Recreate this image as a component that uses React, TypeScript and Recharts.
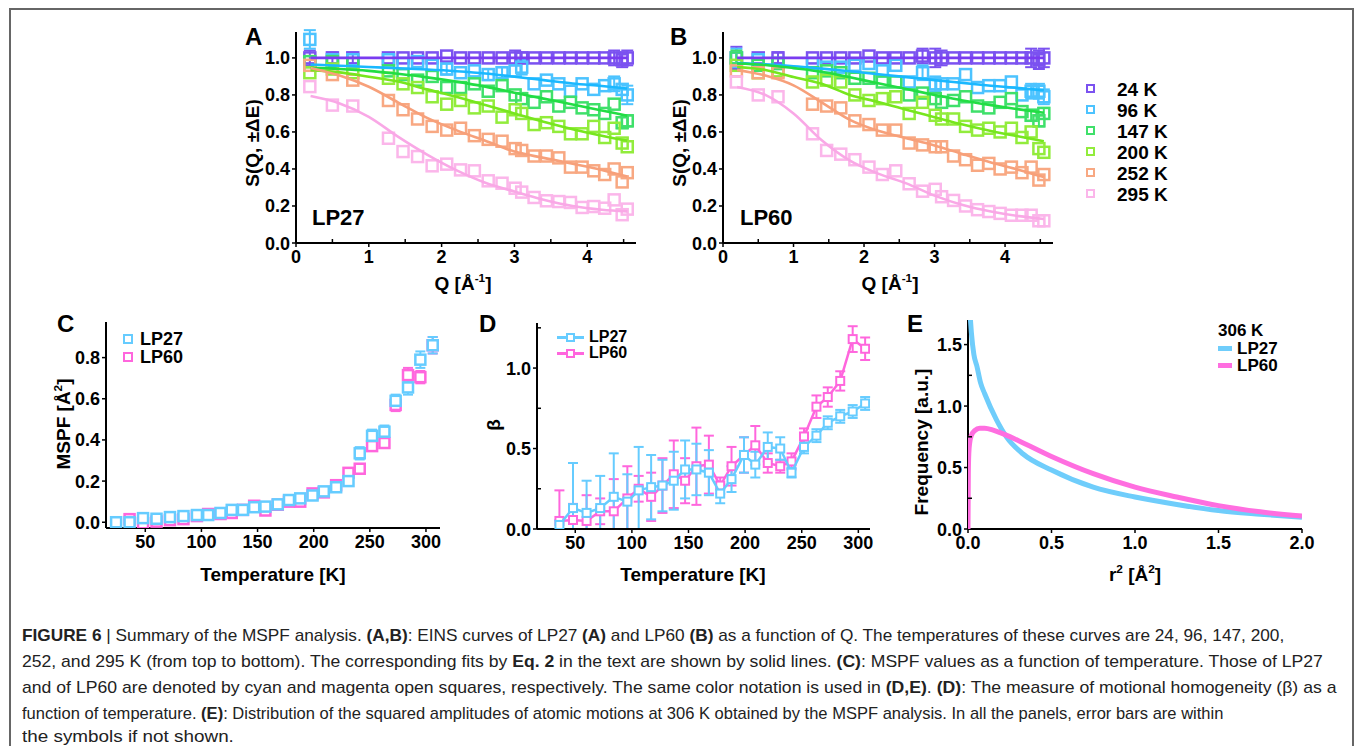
import React from "react";
import { ComposedChart, Scatter, XAxis, YAxis, ErrorBar } from "recharts";

// ---- Panel A/B: EINS curves ----
const qA = [0.19, 0.5, 0.78, 1.27, 1.47, 1.67, 1.87, 2.07, 2.26, 2.45, 2.64, 2.83, 3.01, 3.1, 3.27, 3.44, 3.61, 3.77, 3.93, 4.09, 4.24, 4.37, 4.48, 4.55];

const s27_24 = [1.0, 1.0, 1.0, 1.0, 1.0, 1.0, 1.0, 1.01, 1.0, 1.0, 1.0, 1.0, 1.0, 1.0, 1.0, 1.0, 1.0, 1.0, 1.0, 1.0, 1.0, 1.0, 0.99, 1.0];
const s27_96 = [1.1, 0.99, 0.99, 0.99, 0.97, 0.98, 0.96, 0.94, 0.92, 0.93, 0.91, 0.92, 0.93, 0.95, 0.86, 0.88, 0.86, 0.82, 0.86, 0.83, 0.85, 0.86, 0.83, 0.8];
const s27_147 = [0.98, 0.98, 0.97, 0.93, 0.91, 0.88, 0.9, 0.84, 0.84, 0.86, 0.82, 0.85, 0.8, 0.78, 0.76, 0.79, 0.74, 0.76, 0.73, 0.72, 0.7, 0.75, 0.65, 0.66];
const s27_200 = [0.92, 0.94, 0.92, 0.89, 0.86, 0.84, 0.79, 0.75, 0.77, 0.73, 0.74, 0.68, 0.72, 0.7, 0.64, 0.65, 0.63, 0.59, 0.59, 0.63, 0.57, 0.62, 0.54, 0.52];
const s27_252 = [0.96, 0.91, 0.88, 0.77, 0.72, 0.67, 0.63, 0.61, 0.62, 0.58, 0.56, 0.55, 0.51, 0.5, 0.47, 0.47, 0.46, 0.41, 0.41, 0.39, 0.37, 0.4, 0.33, 0.38];
const s27_295 = [0.845, 0.745, 0.74, 0.566, 0.494, 0.467, 0.417, 0.426, 0.395, 0.39, 0.336, 0.323, 0.296, 0.275, 0.246, 0.228, 0.224, 0.219, 0.192, 0.197, 0.188, 0.233, 0.153, 0.183];
const e27_24 = [0.04, 0.03, 0.03, 0, 0, 0, 0, 0, 0, 0, 0, 0, 0.04, 0.03, 0, 0, 0, 0, 0, 0, 0, 0.04, 0.04, 0.04];
const e27_96 = [0.05, 0, 0, 0, 0, 0, 0, 0.03, 0, 0, 0.03, 0.03, 0, 0.04, 0, 0, 0, 0, 0, 0, 0, 0.04, 0, 0.05];
const e27_147 = [0, 0, 0, 0, 0, 0, 0, 0, 0, 0, 0, 0, 0, 0, 0, 0, 0, 0, 0, 0, 0, 0, 0.03, 0.03];

const s60_24 = [1.0, 1.0, 1.0, 1.0, 1.0, 1.0, 1.0, 1.01, 1.0, 1.0, 1.0, 1.01, 1.0, 1.0, 1.0, 1.0, 1.0, 1.0, 1.0, 1.0, 1.0, 1.0, 0.99, 1.0];
const s60_96 = [1.0, 0.99, 0.97, 0.97, 0.95, 0.95, 0.96, 0.97, 0.93, 0.96, 0.87, 0.92, 0.86, 0.86, 0.86, 0.91, 0.84, 0.85, 0.85, 0.87, 0.8, 0.82, 0.82, 0.79];
const s60_147 = [1.0, 0.96, 0.97, 0.92, 0.93, 0.92, 0.89, 0.89, 0.87, 0.87, 0.8, 0.81, 0.78, 0.76, 0.77, 0.79, 0.74, 0.73, 0.76, 0.78, 0.71, 0.69, 0.66, 0.7];
const s60_200 = [0.96, 0.92, 0.93, 0.87, 0.88, 0.87, 0.8, 0.77, 0.78, 0.79, 0.7, 0.76, 0.69, 0.67, 0.67, 0.63, 0.61, 0.62, 0.6, 0.62, 0.57, 0.6, 0.51, 0.49];
const s60_252 = [0.93, 0.92, 0.92, 0.75, 0.74, 0.73, 0.66, 0.64, 0.61, 0.61, 0.54, 0.53, 0.52, 0.52, 0.47, 0.45, 0.42, 0.43, 0.4, 0.41, 0.38, 0.41, 0.34, 0.37];
const s60_295 = [0.87, 0.8, 0.79, 0.59, 0.5, 0.48, 0.45, 0.41, 0.37, 0.39, 0.32, 0.28, 0.29, 0.25, 0.23, 0.2, 0.18, 0.17, 0.16, 0.15, 0.15, 0.15, 0.12, 0.12];
const e60_24 = [0.06, 0, 0.03, 0, 0, 0, 0, 0, 0, 0, 0, 0.04, 0.05, 0.04, 0, 0, 0, 0, 0, 0, 0, 0.05, 0.05, 0.05];
const e60_96 = [0.05, 0, 0, 0, 0, 0, 0, 0, 0, 0, 0, 0.04, 0.04, 0, 0, 0, 0, 0, 0, 0, 0, 0.04, 0.04, 0.04];
const e60_147 = [0.04, 0, 0, 0, 0, 0, 0, 0, 0, 0, 0, 0, 0, 0, 0, 0, 0, 0, 0, 0, 0, 0.03, 0.03, 0.03];

const qFit = [0.2, 0.6, 1.0, 1.4, 1.8, 2.2, 2.6, 3.0, 3.4, 3.8, 4.2, 4.55];
const fit27_24 = [1.0, 1.0, 1.0, 1.0, 1.0, 1.0, 1.0, 1.0, 1.0, 1.0, 1.0, 1.0];
const fit27_96 = [0.964, 0.958, 0.951, 0.944, 0.937, 0.928, 0.916, 0.898, 0.88, 0.862, 0.848, 0.835];
const fit27_147 = [0.946, 0.94, 0.93, 0.914, 0.895, 0.872, 0.845, 0.812, 0.78, 0.748, 0.716, 0.688];
const fit27_200 = [0.934, 0.922, 0.898, 0.872, 0.83, 0.79, 0.745, 0.7, 0.655, 0.615, 0.58, 0.553];
const fit27_252 = [0.946, 0.905, 0.844, 0.76, 0.676, 0.61, 0.552, 0.494, 0.46, 0.428, 0.395, 0.359];
const fit27_295 = [0.794, 0.754, 0.682, 0.575, 0.478, 0.394, 0.326, 0.278, 0.234, 0.2, 0.18, 0.171];
const fit60_24 = [1.0, 1.0, 1.0, 1.0, 1.0, 1.0, 1.0, 1.0, 1.0, 1.0, 1.0, 1.0];
const fit60_96 = [0.972, 0.965, 0.955, 0.942, 0.928, 0.912, 0.896, 0.88, 0.865, 0.85, 0.837, 0.825];
const fit60_147 = [0.97, 0.962, 0.945, 0.925, 0.895, 0.863, 0.832, 0.8, 0.77, 0.745, 0.722, 0.704];
const fit60_200 = [0.951, 0.935, 0.897, 0.86, 0.8, 0.762, 0.72, 0.68, 0.64, 0.605, 0.575, 0.55];
const fit60_252 = [0.935, 0.905, 0.852, 0.76, 0.665, 0.606, 0.566, 0.527, 0.48, 0.435, 0.395, 0.356];
const fit60_295 = [0.843, 0.8, 0.7, 0.555, 0.445, 0.375, 0.322, 0.256, 0.205, 0.17, 0.145, 0.13];

const tempLabels = ["24 K", "96 K", "147 K", "200 K", "252 K", "295 K"];
const qTicks = [0, 0.5, 1, 1.5, 2, 2.5, 3, 3.5, 4, 4.5];

// ---- Panel C: MSPF ----
const tempC = [24, 36, 48, 60, 72, 84, 96, 106, 117, 127, 137, 147, 157, 168, 178, 188, 199, 209, 220, 231, 241, 252, 263, 273, 284, 295, 306];
const mspf27 = [0.0, 0.0, 0.02, 0.017, 0.025, 0.03, 0.035, 0.035, 0.045, 0.06, 0.06, 0.073, 0.076, 0.087, 0.108, 0.116, 0.13, 0.15, 0.17, 0.2, 0.335, 0.42, 0.44, 0.59, 0.655, 0.79, 0.86];
const mspfErr27 = [0, 0, 0, 0, 0, 0, 0, 0, 0, 0, 0, 0, 0, 0, 0, 0, 0, 0, 0, 0, 0.03, 0.03, 0.03, 0.03, 0.035, 0.04, 0.04];
const tempC60 = [36, 48, 60, 72, 84, 96, 106, 117, 127, 137, 147, 157, 168, 178, 188, 199, 209, 220, 231, 241, 252, 263, 273, 284, 295, 306];
const mspf60 = [0.015, -0.005, 0.003, 0.01, 0.015, 0.03, 0.04, 0.04, 0.045, 0.06, 0.08, 0.057, 0.085, 0.1, 0.1, 0.14, 0.145, 0.18, 0.24, 0.26, 0.37, 0.385, 0.57, 0.715, 0.705, 0.86];
const mspfErr60 = [0, 0, 0, 0, 0, 0, 0, 0, 0, 0, 0, 0, 0, 0, 0, 0, 0, 0, 0, 0.02, 0.02, 0.02, 0.03, 0.035, 0.03, 0.04];

// ---- Panel D: beta ----
const tempD = [36, 48, 60, 72, 84, 96, 106, 117, 127, 137, 147, 157, 168, 178, 188, 199, 209, 220, 231, 241, 252, 263, 273, 284, 295, 306];
const beta27 = [0.025, 0.13, 0.1, 0.13, 0.2, 0.17, 0.24, 0.26, 0.27, 0.3, 0.37, 0.37, 0.35, 0.22, 0.31, 0.46, 0.4, 0.51, 0.5, 0.35, 0.51, 0.58, 0.66, 0.7, 0.73, 0.78];
const betaErr27 = [0.03, 0.28, 0.2, 0.2, 0.27, 0.17, 0.27, 0.2, 0.16, 0.18, 0.18, 0.16, 0.14, 0.06, 0.08, 0.11, 0.08, 0.09, 0.07, 0.03, 0.04, 0.04, 0.04, 0.04, 0.04, 0.04];
const beta60 = [0.05, 0.056, 0.05, 0.11, 0.11, 0.19, 0.25, 0.2, 0.27, 0.34, 0.3, 0.39, 0.4, 0.27, 0.39, 0.46, 0.52, 0.41, 0.39, 0.42, 0.575, 0.76, 0.82, 0.92, 1.18, 1.12];
const betaErr60 = [0.19, 0.1, 0.16, 0.08, 0.2, 0.2, 0.08, 0.15, 0.17, 0.21, 0.14, 0.24, 0.18, 0.05, 0.12, 0.11, 0.12, 0.06, 0.04, 0.05, 0.05, 0.07, 0.06, 0.06, 0.08, 0.07];

// ---- Panel E: distributions at 306 K ----
const rE27 = [0.012, 0.02, 0.035, 0.054, 0.075, 0.1, 0.17, 0.23, 0.33, 0.5, 0.75, 1.0, 1.25, 1.5, 1.75, 2.0];
const fE27 = [1.75, 1.6, 1.42, 1.32, 1.19, 1.1, 0.89, 0.75, 0.61, 0.48, 0.34, 0.26, 0.2, 0.15, 0.12, 0.095];
const rE60 = [0.0, 0.002, 0.005, 0.01, 0.02, 0.04, 0.07, 0.1, 0.15, 0.2, 0.3, 0.5, 0.75, 1.0, 1.25, 1.5, 1.75, 2.0];
const fE60 = [0.0, 0.45, 0.62, 0.7, 0.76, 0.8, 0.82, 0.82, 0.805, 0.78, 0.72, 0.59, 0.45, 0.34, 0.26, 0.19, 0.14, 0.105];

const ptColors = ["#7b52f0", "#4cc3ff", "#3fe06a", "#92ec3c", "#f8a882", "#fbb6ea"];
const fitColors = ["#7a3cf0", "#1ab8ff", "#22dd44", "#77e61e", "#f7a07a", "#f9a8e6"];
const CYAN = "#66ccff";
const MAGENTA = "#ff66dd";
const FONT = "'Liberation Sans', Arial, sans-serif";

const zip = (xs: number[], ys: number[], es?: number[] | null) =>
  xs.map((x, i) => ({ x, y: ys[i], e: es ? es[i] : 0 }));
// error bars cut at the x axis (beta cannot go below 0)
const zipClip = (xs: number[], ys: number[], es: number[]) =>
  xs.map((x, i) => ({ x, y: ys[i], e: [Math.min(es[i], ys[i]), es[i]] }));

const square = (color: string, size: number, sw: number, fill = "none") => (p: any) =>
  p.cx == null ? <g /> : (
    <rect x={p.cx - size / 2} y={p.cy - size / 2} width={size} height={size} fill={fill} stroke={color} strokeWidth={sw} />
  );
const noDot = () => <g />;

const tickCss = { fill: "#000", fontSize: 18, fontWeight: 700, fontFamily: FONT };
const f1 = (v: number) => v.toFixed(1);
const f0 = (v: number) => String(v);
const always = () => true;
const onStep = (step: number) => (v: number) => Math.abs(v / step - Math.round(v / step)) < 1e-6;
const OFF = 6; // tickSize 4 + tickMargin 2

// major ticks point out with a label, minor ticks point into the plot
const xTick = (fmt: (v: number) => string, major: (v: number) => boolean = always) => (p: any) => {
  const v = p.payload.value;
  const ay = p.y - OFF;
  if (!major(v)) return <line x1={p.x} x2={p.x} y1={ay} y2={ay - 4} stroke="#000" strokeWidth={1.5} />;
  return (
    <g>
      <line x1={p.x} x2={p.x} y1={ay} y2={ay + 4} stroke="#000" strokeWidth={1.5} />
      <text x={p.x} y={p.y} dy={14} textAnchor="middle" style={tickCss}>{fmt(v)}</text>
    </g>
  );
};
const yTick = (fmt: (v: number) => string, major: (v: number) => boolean = always) => (p: any) => {
  const v = p.payload.value;
  const ax = p.x + OFF;
  if (!major(v)) return <line x1={ax} x2={ax + 4} y1={p.y} y2={p.y} stroke="#000" strokeWidth={1.5} />;
  return (
    <g>
      <line x1={ax} x2={ax - 4} y1={p.y} y2={p.y} stroke="#000" strokeWidth={1.5} />
      <text x={p.x} y={p.y} dy={6.5} textAnchor="end" style={tickCss}>{fmt(v)}</text>
    </g>
  );
};
const axisLine = { stroke: "#000", strokeWidth: 2 };

function Txt({ x, y, size = 19, children, rotate = false, anchor = "left" }: any) {
  const style: React.CSSProperties = {
    position: "absolute",
    left: x,
    top: y,
    fontFamily: FONT,
    fontWeight: 700,
    fontSize: size,
    whiteSpace: "nowrap",
    lineHeight: 1,
    color: "#000",
  };
  if (rotate) style.transform = "translate(-50%,-50%) rotate(-90deg)";
  else if (anchor === "center") style.transform = "translate(-50%,-50%)";
  else style.transform = "translateY(-50%)";
  return <div style={style}>{children}</div>;
}

const sup = (s: string) => <sup style={{ fontSize: "0.62em", verticalAlign: "0.6em", lineHeight: 0 }}>{s}</sup>;

function EinsPanel({ left, top, width, height, xMax, series, errs, fits }: any) {
  return (
    <div style={{ position: "absolute", left, top }}>
      <ComposedChart width={width} height={height} margin={{ top: 5, right: 5, left: 0, bottom: 0 }}>
        <XAxis type="number" dataKey="x" domain={[0, xMax]} ticks={qTicks} tick={xTick(f0, Number.isInteger)} axisLine={axisLine} tickLine={false} tickSize={4} height={30} interval={0} allowDataOverflow />
        <YAxis type="number" dataKey="y" domain={[0, 1.14]} ticks={[0, 0.2, 0.4, 0.6, 0.8, 1.0]} tick={yTick(f1)} axisLine={axisLine} tickLine={false} tickSize={4} width={60} interval={0} allowDataOverflow />
        {series.map((s: number[], i: number) => (
          <Scatter key={"p" + i} data={zip(qA, s, errs[i])} shape={square(ptColors[i], 11, 2.5)} isAnimationActive={false}>
            {errs[i] && <ErrorBar dataKey="e" direction="y" width={6} stroke={ptColors[i]} strokeWidth={2} />}
          </Scatter>
        ))}
        {fits.map((f: number[], i: number) => (
          <Scatter key={"f" + i} data={zip(qFit, f)} shape={noDot} line={{ stroke: fitColors[i], strokeWidth: 2.6 }} lineJointType="monotoneX" isAnimationActive={false} />
        ))}
      </ComposedChart>
    </div>
  );
}

const tempTicks = [50, 100, 150, 200, 250, 300];

function CapLine({ top, sx, children }: any) {
  return (
    <div style={{ position: "absolute", left: 22, top, fontFamily: FONT, fontSize: 17, whiteSpace: "nowrap", color: "#222", lineHeight: 1, transform: `scaleX(${sx})`, transformOrigin: "0 0" }}>
      {children}
    </div>
  );
}

export default function App() {
  return (
    <div style={{ position: "absolute", left: 0, top: 0, width: 1355, height: 746, background: "#fff", overflow: "hidden" }}>
      <div style={{ position: "absolute", left: 9, top: 8, width: 1341, height: 800, border: "2px solid #666" }} />

      {/* A */}
      <EinsPanel left={236} top={27} width={405} height={246} xMax={4.67}
        series={[s27_24, s27_96, s27_147, s27_200, s27_252, s27_295]}
        errs={[e27_24, e27_96, e27_147, null, null, null]}
        fits={[fit27_24, fit27_96, fit27_147, fit27_200, fit27_252, fit27_295]} />
      <Txt x={245} y={37} size={24}>A</Txt>
      <Txt x={312} y={218} size={22}>LP27</Txt>
      <Txt x={252} y={143} rotate>S(Q, ±ΔE)</Txt>
      <Txt x={463} y={283} anchor="center">Q [Å{sup("-1")}]</Txt>

      {/* B */}
      <EinsPanel left={663} top={27} width={395} height={246} xMax={4.68}
        series={[s60_24, s60_96, s60_147, s60_200, s60_252, s60_295]}
        errs={[e60_24, e60_96, e60_147, null, null, null]}
        fits={[fit60_24, fit60_96, fit60_147, fit60_200, fit60_252, fit60_295]} />
      <Txt x={670} y={37} size={24}>B</Txt>
      <Txt x={740} y={218} size={22}>LP60</Txt>
      <Txt x={679} y={143} rotate>S(Q, ±ΔE)</Txt>
      <Txt x={890} y={283} anchor="center">Q [Å{sup("-1")}]</Txt>
      {tempLabels.map((t, i) => (
        <React.Fragment key={t}>
          <div style={{ position: "absolute", left: 1086, top: 84 + i * 20.9, width: 5, height: 5, border: `2.5px solid ${ptColors[i]}` }} />
          <Txt x={1117} y={89 + i * 20.9} size={19}>{t}</Txt>
        </React.Fragment>
      ))}

      {/* C */}
      <div style={{ position: "absolute", left: 46, top: 317 }}>
        <ComposedChart width={399} height={241} margin={{ top: 5, right: 5, left: 0, bottom: 0 }}>
          <XAxis type="number" dataKey="x" domain={[15, 312.5]} ticks={tempTicks} tick={xTick(f0)} axisLine={axisLine} tickLine={false} tickSize={4} height={30} interval={0} allowDataOverflow />
          <YAxis type="number" dataKey="y" domain={[-0.028, 0.973]} ticks={[0, 0.2, 0.4, 0.6, 0.8]} tick={yTick(f1)} axisLine={axisLine} tickLine={false} tickSize={4} width={60} interval={0} allowDataOverflow />
          <Scatter data={zip(tempC60, mspf60, mspfErr60)} shape={square(MAGENTA, 10, 2.5, "#fff")} isAnimationActive={false}>
            <ErrorBar dataKey="e" direction="y" width={5} stroke={MAGENTA} strokeWidth={2} />
          </Scatter>
          <Scatter data={zip(tempC, mspf27, mspfErr27)} shape={square(CYAN, 10, 2.5, "#fff")} isAnimationActive={false}>
            <ErrorBar dataKey="e" direction="y" width={5} stroke={CYAN} strokeWidth={2} />
          </Scatter>
        </ComposedChart>
      </div>
      <Txt x={57} y={324} size={24}>C</Txt>
      <div style={{ position: "absolute", left: 123, top: 334, width: 6, height: 6, border: `2.5px solid ${CYAN}` }} />
      <div style={{ position: "absolute", left: 123, top: 352, width: 6, height: 6, border: `2.5px solid ${MAGENTA}` }} />
      <Txt x={140} y={339} size={18}>LP27</Txt>
      <Txt x={140} y={357} size={18}>LP60</Txt>
      <Txt x={63} y={424} rotate>MSPF [Å{sup("2")}]</Txt>
      <Txt x={273} y={574} anchor="center">Temperature [K]</Txt>

      {/* D */}
      <div style={{ position: "absolute", left: 477, top: 318 }}>
        <ComposedChart width={398} height={241} margin={{ top: 5, right: 5, left: 0, bottom: 0 }}>
          <XAxis type="number" dataKey="x" domain={[16.2, 310.3]} ticks={tempTicks} tick={xTick(f0)} axisLine={axisLine} tickLine={false} tickSize={4} height={30} interval={0} allowDataOverflow />
          <YAxis type="number" dataKey="y" domain={[0, 1.28]} ticks={[0, 0.25, 0.5, 0.75, 1.0, 1.25]} tick={yTick(f1, onStep(0.5))} axisLine={axisLine} tickLine={false} tickSize={4} width={60} interval={0} allowDataOverflow />
          <Scatter data={zipClip(tempD, beta60, betaErr60)} shape={square(MAGENTA, 8, 2, "#fff")} line={{ stroke: MAGENTA, strokeWidth: 2.5 }} isAnimationActive={false}>
            <ErrorBar dataKey="e" direction="y" width={5} stroke={MAGENTA} strokeWidth={2} />
          </Scatter>
          <Scatter data={zipClip(tempD, beta27, betaErr27)} shape={square(CYAN, 8, 2, "#fff")} line={{ stroke: CYAN, strokeWidth: 2.5 }} isAnimationActive={false}>
            <ErrorBar dataKey="e" direction="y" width={5} stroke={CYAN} strokeWidth={2} />
          </Scatter>
        </ComposedChart>
      </div>
      <Txt x={479} y={324} size={24}>D</Txt>
      {[CYAN, MAGENTA].map((c, i) => (
        <React.Fragment key={c}>
          <div style={{ position: "absolute", left: 557, top: 336 + i * 16, width: 27, height: 2.5, background: c }} />
          <div style={{ position: "absolute", left: 566, top: 333 + i * 16, width: 5, height: 5, border: `2px solid ${c}`, background: "#fff" }} />
        </React.Fragment>
      ))}
      <Txt x={589} y={337} size={16}>LP27</Txt>
      <Txt x={589} y={353} size={16}>LP60</Txt>
      <Txt x={493} y={425} rotate>β</Txt>
      <Txt x={693} y={574} anchor="center">Temperature [K]</Txt>

      {/* E */}
      <div style={{ position: "absolute", left: 908, top: 315 }}>
        <ComposedChart width={412} height={244} margin={{ top: 5, right: 18, left: 0, bottom: 0 }}>
          <XAxis type="number" dataKey="x" domain={[0, 2]} ticks={[0, 0.5, 1.0, 1.5, 2.0]} tick={xTick(f1)} axisLine={axisLine} tickLine={false} tickSize={4} height={30} interval={0} allowDataOverflow />
          <YAxis type="number" dataKey="y" domain={[0, 1.7]} ticks={[0, 0.25, 0.5, 0.75, 1.0, 1.25, 1.5]} tick={yTick(f1, onStep(0.5))} axisLine={axisLine} tickLine={false} tickSize={4} width={60} interval={0} allowDataOverflow />
          <Scatter data={zip(rE27, fE27)} shape={noDot} line={{ stroke: "#6fcdfb", strokeWidth: 5 }} lineJointType="monotoneX" isAnimationActive={false} />
          <Scatter data={zip(rE60, fE60)} shape={noDot} line={{ stroke: "#ff6ee0", strokeWidth: 5 }} lineJointType="monotoneX" isAnimationActive={false} />
        </ComposedChart>
      </div>
      <Txt x={907} y={324} size={24}>E</Txt>
      <Txt x={1218} y={330} size={17}>306 K</Txt>
      <div style={{ position: "absolute", left: 1218, top: 346, width: 14, height: 5, background: "#6fcdfb" }} />
      <div style={{ position: "absolute", left: 1218, top: 363, width: 14, height: 5, background: "#ff6ee0" }} />
      <Txt x={1237} y={348} size={17}>LP27</Txt>
      <Txt x={1237} y={365} size={17}>LP60</Txt>
      <Txt x={921} y={442} rotate>Frequency [a.u.]</Txt>
      <Txt x={1135} y={574} anchor="center">r{sup("2")} [Å{sup("2")}]</Txt>

      {/* Caption */}
      <CapLine top={627} sx={1.014}><b>FIGURE 6 </b>| Summary of the MSPF analysis. <b>(A,B)</b>: EINS curves of LP27 <b>(A)</b> and LP60 <b>(B)</b> as a function of Q. The temperatures of these curves are 24, 96, 147, 200,</CapLine>
      <CapLine top={653} sx={1.034}>252, and 295 K (from top to bottom). The corresponding fits by <b>Eq. 2</b> in the text are shown by solid lines. <b>(C)</b>: MSPF values as a function of temperature. Those of LP27</CapLine>
      <CapLine top={679} sx={1.037}>and of LP60 are denoted by cyan and magenta open squares, respectively. The same color notation is used in <b>(D,E)</b>. <b>(D)</b>: The measure of motional homogeneity (β) as a</CapLine>
      <CapLine top={705} sx={0.972}>function of temperature. <b>(E)</b>: Distribution of the squared amplitudes of atomic motions at 306 K obtained by the MSPF analysis. In all the panels, error bars are within</CapLine>
      <CapLine top={728} sx={1.11}>the symbols if not shown.</CapLine>
    </div>
  );
}
